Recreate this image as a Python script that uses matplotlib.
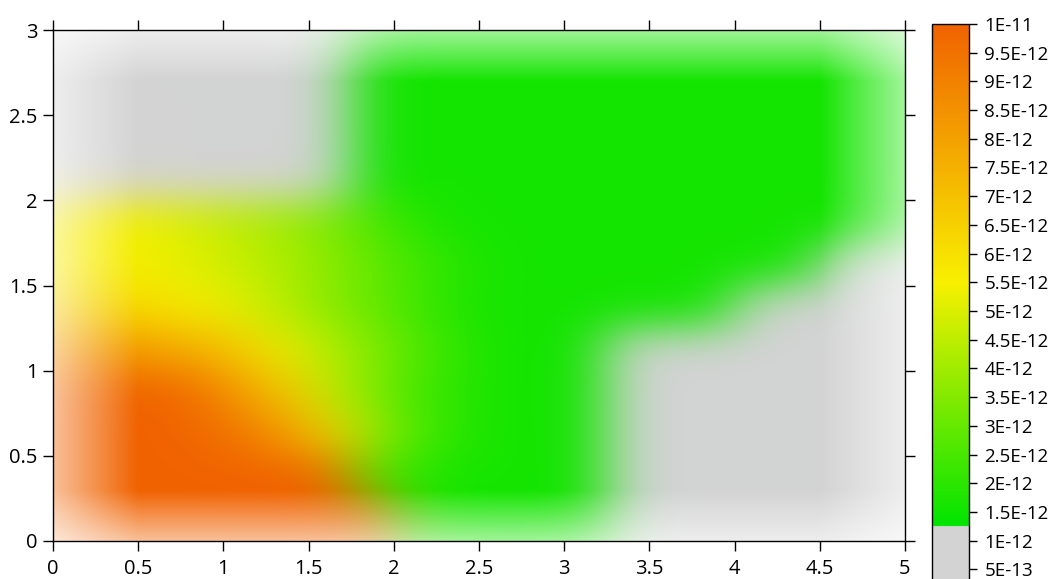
import numpy as np
import matplotlib
matplotlib.use('Agg')
import matplotlib.pyplot as plt
from matplotlib.colors import LinearSegmentedColormap, Normalize
from matplotlib.cm import ScalarMappable

plt.rcParams['font.family'] = ['Open Sans', 'DejaVu Sans']

# cell values in units of 1E-12, cells of 0.25 x 0.25, rows from y=0 upwards
g, G = 0.8, 1.6
row_0 = [10, 10, 10, 10, 10, 10, 10, 10, 2.0, G, G, G, G, g, g, g, g, g, g, g]
row_1 = [10, 10, 10, 10, 10, 10, 10, 2.6, 2.0, G, G, G, G, g, g, g, g, g, g, g]
row_2 = [10, 10, 10, 9.8, 9.3, 8.3, 6.5, 4.0, 2.6, 2.0, G, G, G, g, g, g, g, g, g, g]
row_3 = [10, 10, 10, 9.5, 8.0, 6.8, 4.6, 3.4, 2.4, 2.0, G, G, G, g, g, g, g, g, g, g]
row_4 = [8.5, 8.2, 8.0, 7.5, 6.5, 5.3, 4.3, 3.5, 2.7, 2.1, G, G, G, g, g, g, g, g, g, g]
row_5 = [6.5, 6.3, 6.0, 5.5, 5.0, 4.3, 3.6, 3.0, 2.4, 1.8, G, G, G, G, G, G, g, g, g, g]
row_6 = [5.6, 5.6, 5.4, 5.0, 4.6, 4.2, 3.6, 3.0, 2.4, 2.0, G, G, G, G, G, G, G, G, g, g]
row_7 = [5.6, 5.5, 5.2, 4.8, 4.4, 4.0, 3.4, 2.6, 2.0, G, G, G, G, G, G, G, G, G, G, G]
row_8 = [g, g, g, g, g, g, g, G, G, G, G, G, G, G, G, G, G, G, G, G]
row_9 = [g, g, g, g, g, g, g, G, G, G, G, G, G, G, G, G, G, G, G, G]
row_10 = [g, g, g, g, g, g, g, G, G, G, G, G, G, G, G, G, G, G, G, G]
row_11 = [g, g, g, g, g, g, g, G, G, G, G, G, G, G, G, G, G, G, G, G]
values = np.array([row_0, row_1, row_2, row_3, row_4, row_5, row_6,
                   row_7, row_8, row_9, row_10, row_11])

x_ticks = [0, 0.5, 1, 1.5, 2, 2.5, 3, 3.5, 4, 4.5, 5]
x_labels = ['0', '0.5', '1', '1.5', '2', '2.5', '3', '3.5', '4', '4.5', '5']
y_ticks = [0, 0.5, 1, 1.5, 2, 2.5, 3]
y_labels = ['0', '0.5', '1', '1.5', '2', '2.5', '3']
cbar_ticks = np.arange(1, 21) * 0.5
cbar_labels = ['5E-13', '1E-12', '1.5E-12', '2E-12', '2.5E-12', '3E-12', '3.5E-12',
               '4E-12', '4.5E-12', '5E-12', '5.5E-12', '6E-12', '6.5E-12', '7E-12',
               '7.5E-12', '8E-12', '8.5E-12', '9E-12', '9.5E-12', '1E-11']

cmap = LinearSegmentedColormap.from_list('gyo', [
    (0.0, '#d3d3d4'), (0.124, '#d3d3d4'), (0.126, '#00e400'),
    (0.55, '#f8f000'), (1.0, '#f06200')], N=1024)
norm = Normalize(0, 10)

# colour the cells, then smooth in RGB like the original rendering
sub = 20
rgb = cmap(norm(values))[..., :3]
rgb = np.repeat(np.repeat(rgb, sub, axis=0), sub, axis=1)
step = 0.25 / sub


def smooth(arr, sigma, axis):
    n = arr.shape[axis]
    pos = np.arange(n) * step
    k = np.exp(-0.5 * ((pos[:, None] - pos[None, :]) / sigma) ** 2)
    k /= k.sum(axis=1, keepdims=True)
    out = np.tensordot(k, np.moveaxis(arr, axis, 0), axes=(1, 0))
    return np.moveaxis(out, 0, axis)


rgb = smooth(rgb, 0.18, 1)
rgb = smooth(rgb, 0.12, 0)

xc = (np.arange(rgb.shape[1]) + 0.5) * step
yc = (np.arange(rgb.shape[0]) + 0.5) * step
dx = np.minimum(xc, 5 - xc)
dy = np.minimum(yc, 3 - yc)
wx = 0.6 * np.clip(1 - dx / 0.5, 0, 1)
wy = 0.6 * np.clip(1 - dy / 0.3, 0, 1)
w = 1 - (1 - wx[None, :]) * (1 - wy[:, None])
rgb = rgb * (1 - w[..., None]) + w[..., None]

fig = plt.figure(figsize=(10.62, 5.79), dpi=100)
ax = fig.add_axes([53 / 1062, 38 / 579, 852 / 1062, 511 / 579])
ax.imshow(rgb, extent=(0, 5, 0, 3), origin='lower', aspect='auto',
          interpolation='bilinear')
ax.set_xlim(0, 5)
ax.set_ylim(0, 3)
ax.set_xticks(x_ticks)
ax.set_xticklabels(x_labels)
ax.set_yticks(y_ticks)
ax.set_yticklabels(y_labels)
ax.tick_params(direction='out', length=7, width=1, top=True, right=True,
               labelsize=14.5)
ax.tick_params(axis='x', pad=6)
ax.tick_params(axis='y', pad=4)
for s in ax.spines.values():
    s.set_linewidth(1)

cax = fig.add_axes([932 / 1062, -19 / 579, 37 / 1062, 574 / 579])
cb = fig.colorbar(ScalarMappable(norm=norm, cmap=cmap), cax=cax, ticks=cbar_ticks)
cb.ax.set_yticklabels(cbar_labels)
cb.ax.tick_params(length=6, width=1, labelsize=13.5, pad=5)
cb.outline.set_linewidth(1)

plt.savefig('out.png', dpi=100)
